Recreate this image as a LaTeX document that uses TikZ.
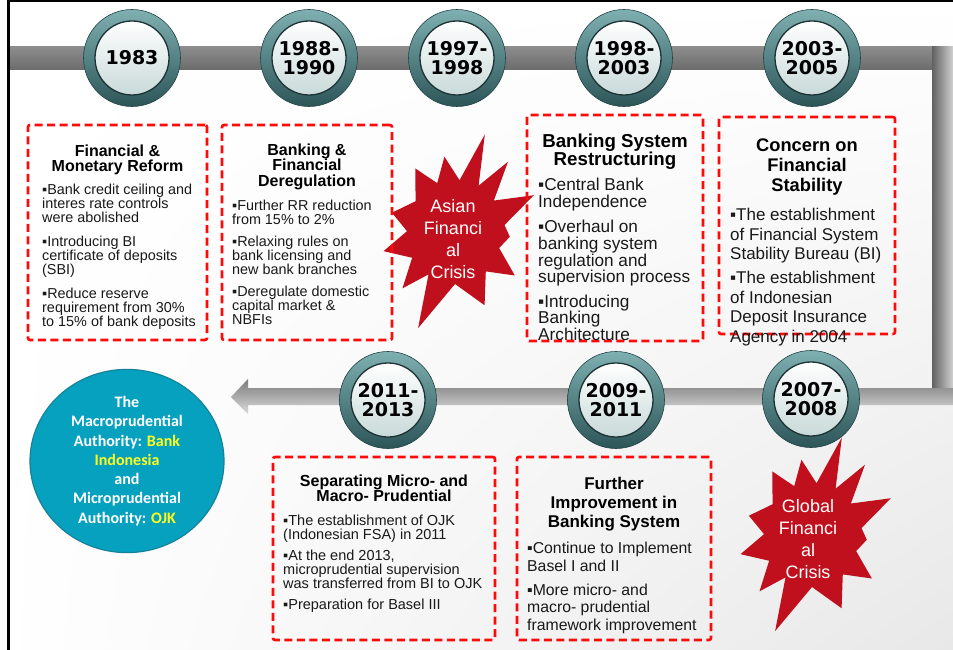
\documentclass[tikz,border=0pt]{standalone}
\usepackage{fontspec}
\setmainfont{Liberation Sans}
\newfontfamily\yearfont{DejaVu Sans}
\newfontfamily\authfont{Carlito}
\usepackage{tikz}
\usetikzlibrary{positioning,shapes.geometric,shadings}

\definecolor{boxred}{HTML}{FF0A0A}
\definecolor{crisisred}{HTML}{C0101D}
\definecolor{ringlight}{HTML}{7FB0B1}
\definecolor{ringdark}{HTML}{2C5558}
\definecolor{discedge}{HTML}{1E3335}
\definecolor{discgray}{HTML}{C9D9D9}
\definecolor{authblue}{HTML}{06A1BF}
\definecolor{authedge}{HTML}{15829A}
\definecolor{authyellow}{HTML}{FFFF1E}

\begin{document}
\begin{tikzpicture}[
x=1pt,y=-1pt,
ring/.style={circle,minimum size=97pt,inner sep=0pt,top color=ringlight,bottom color=ringdark,draw=ringdark!80!black,line width=0.6pt},
disc/.style={circle,minimum size=74pt,inner sep=0pt,top color=white,bottom color=discgray,draw=discedge,line width=1.3pt,align=center,font=\yearfont\bfseries\fontsize{19}{18.5}\selectfont},
redbox/.style={draw=boxred,line width=2.6pt,dash pattern=on 8pt off 4.5pt,rounded corners=2pt,inner sep=0pt},
boxhead/.style 2 args={align=center,inner sep=0pt,text=black,font=\bfseries\fontsize{#1}{#2}\selectfont},
boxbody/.style 2 args={align=left,inner sep=0pt,anchor=north west,text=black!90,font=\fontsize{#1}{#2}\selectfont},
crisistext/.style={align=center,inner sep=0pt,text=white,font=\fontsize{18}{22}\selectfont},
authority/.style={ellipse,minimum width=194pt,minimum height=176pt,inner sep=0pt,fill=authblue,draw=authedge,line width=1.2pt,align=center,text=white,font=\authfont\bfseries\fontsize{16}{19.3}\selectfont},
burst/.pic={\fill[crisisred] (73:102pt) -- (63:52pt) -- (53:88pt) -- (39:50pt) -- (25:87pt) -- (8:50pt) -- (-5:55pt) -- (-20:47pt) -- (-36:74pt) -- (-52:50pt) -- (-68:79pt) -- (-90:52pt) -- (-111:103pt) -- (-122:50pt) -- (-133:77pt) -- (-149:50pt) -- (-165:74pt) -- (179:48pt) -- (163:66pt) -- (142:50pt) -- (122:75pt) -- (110:52pt) -- (98:76pt) -- (85:52pt) -- cycle;}
]
\useasboundingbox (0,0) rectangle (953,650);
\shade[upper left=white,upper right=white,lower left=white,lower right=black!9] (0,0) rectangle (953,650);

% timeline band
\shade[top color=black!45,middle color=black!22,bottom color=black!58] (9,47) rectangle (932,70);
\shade[left color=black!62,right color=black!18] (932,47) rectangle (953,388);
\shade[top color=black!52,bottom color=black!14] (953,388) -- (248,388) -- (248,379) -- (231,397) -- (248,414) -- (248,405) -- (953,405) -- cycle;
\draw[line width=2.5pt] (8.5,650) -- (8.5,1.2) -- (953,1.2);

% years
\node[ring] (ring83) at (132,58) {};
\node[disc] (yr83) at (ring83) {1983};
\node[ring] (ring88) at (309,58) {};
\node[disc] (yr88) at (ring88) {1988-\\1990};
\node[ring] (ring97) at (457,58) {};
\node[disc] (yr97) at (ring97) {1997-\\1998};
\node[ring] (ring98) at (624,58) {};
\node[disc] (yr98) at (ring98) {1998-\\2003};
\node[ring] (ring03) at (812,58) {};
\node[disc] (yr03) at (ring03) {2003-\\2005};
\node[ring] (ring11) at (388,400) {};
\node[disc] (yr11) at (ring11) {2011-\\2013};
\node[ring] (ring09) at (616,400) {};
\node[disc] (yr09) at (ring09) {2009-\\2011};
\node[ring] (ring07) at (811,399) {};
\node[disc] (yr07) at (ring07) {2007-\\2008};

% crises
\pic (asianburst) at (455,232) {burst};
\node[crisistext] (asian) at (453,239) {Asian\\Financi\\al\\Crisis};
\pic (globalburst) at (812,535) {burst};
\node[crisistext] (global) at (808,539) {Global\\Financi\\al\\Crisis};

% boxes
\node[redbox,minimum width=179pt,minimum height=215pt] (reform) at (117.5,232.5) {};
\node[boxhead={16}{15},below=21pt of reform.north] (reformhead) {Financial \&\\Monetary Reform};
\node[boxbody={14.4}{14}] (reformbody) at (42,184) {▪Bank credit ceiling and\\interes rate controls\\were abolished\\[10pt]▪Introducing BI\\certificate of deposits\\(SBI)\\[10pt]▪Reduce reserve\\requirement from 30\%\\to 15\% of bank deposits};

\node[redbox,minimum width=170pt,minimum height=215pt] (dereg) at (307,232.5) {};
\node[boxhead={16}{15.5},below=20pt of dereg.north] (dereghead) {Banking \&\\Financial\\Deregulation};
\node[boxbody={14.4}{14}] (deregbody) at (232,200) {▪Further RR reduction\\from 15\% to 2\%\\[8pt]▪Relaxing rules on\\bank licensing and\\new bank branches\\[8pt]▪Deregulate domestic\\capital market \&\\NBFIs};

\node[redbox,minimum width=176pt,minimum height=226pt] (restruct) at (615,228) {};
\node[boxhead={18.7}{16.5},below=20pt of restruct.north] (restructhead) {Banking System\\Restructuring};
\node[boxbody={17.2}{16.6}] (restructbody) at (538,178) {▪Central Bank\\Independence\\[9pt]▪Overhaul on\\banking system\\regulation and\\supervision process\\[8pt]▪Introducing\\Banking\\Architecture};

\node[redbox,minimum width=176pt,minimum height=217pt] (stability) at (807,225.5) {};
\node[boxhead={18.3}{20},below=23pt of stability.north] (stabilityhead) {Concern on\\Financial\\Stability};
\node[boxbody={17}{19.5}] (stabilitybody) at (730,208) {▪The establishment\\of Financial System\\Stability Bureau (BI)\\[4.5pt]▪The establishment\\of Indonesian\\Deposit Insurance\\Agency in 2004};

\node[redbox,minimum width=222pt,minimum height=183pt] (separate) at (384,548.5) {};
\node[boxhead={16}{15},below=19pt of separate.north] (separatehead) {Separating Micro- and\\Macro- Prudential};
\node[boxbody={14.5}{14}] (separatebody) at (283,515) {▪The establishment of OJK\\(Indonesian FSA) in 2011\\[7pt]▪At the end 2013,\\microprudential supervision\\was transferred from BI to OJK\\[7pt]▪Preparation for Basel III};

\node[redbox,minimum width=194pt,minimum height=183pt] (improve) at (614,548.5) {};
\node[boxhead={17}{19},below=21pt of improve.north] (improvehead) {Further\\Improvement in\\Banking System};
\node[boxbody={15.8}{17.7}] (improvebody) at (527,542) {▪Continue to Implement\\Basel I and II\\[6pt]▪More micro- and\\macro- prudential\\framework improvement};

% authority
\node[authority] (bi) at (127,461) {The\\Macroprudential\\Authority: \textcolor{authyellow}{Bank}\\\textcolor{authyellow}{Indonesia}\\and\\Microprudential\\Authority: \textcolor{authyellow}{OJK}};
\end{tikzpicture}
\end{document}
